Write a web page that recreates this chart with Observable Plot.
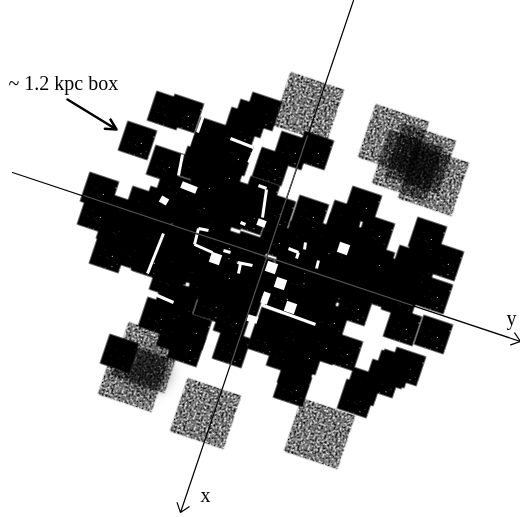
<!DOCTYPE html>
<html>
<head>
<meta charset="utf-8">
<script src="https://cdn.jsdelivr.net/npm/d3@7"></script>
<script src="https://cdn.jsdelivr.net/npm/@observablehq/plot@0.6"></script>
<style>html,body{margin:0;padding:0;background:#fff}svg{display:block}</style>
</head>
<body>
<div id="chart"></div>
<script>
// Deep (grey) fields: centre positions
const deepX = [308, 319, 205, 146, 133, 393, 420, 407, 433];
const deepY = [107, 433, 413, 357, 376, 139, 158, 165, 180];
// Overlap core of the deep fields
const coreX = [420, 147];
const coreY = [163, 370];
// Shallow (black) fields: centre positions
const fieldX = [137,166,184,165,172,142,99,96,108,138,144,168,157,186,192,175,119,
  231,292,296,271,266,295,322,343,285,305,356,363,382,391,406,394,402,433,433,400,444,427,409,420,395,405,
  314,291,271,262,250,241,234,244,276,309,344,362,375,340,350,
  210,197,215,205,225,200,180,155,123,135,115,230,250,
  170,195,225,250,275,300,325,350,175,200,225,250,275,300,325,350,375,
  306,283,321,354,212,232,205,180,240,255,235,212,300,330,365,380,
  185,160,190,150,260,320,335,365,290,215,245,170,380,225,205,310];
const fieldY = [140,110,113,164,190,205,191,214,253,254,235,279,316,347,330,335,353,
  348,387,372,326,338,335,345,351,355,355,398,386,378,369,366,368,326,334,294,299,261,236,264,262,275,285,
  150,150,166,111,118,126,156,199,211,214,219,205,233,232,240,
  136,165,165,185,195,205,210,215,214,230,228,210,215,
  240,250,245,250,240,240,240,255,265,270,275,280,280,270,270,280,262,
  304,296,298,306,304,320,285,300,300,270,300,275,315,320,280,290,
  235,205,225,260,195,290,285,255,265,225,300,305,285,175,150,255];
// Uncovered slivers between fields: x1, y1, x2, y2
const narrowGaps = [
  [203,115,197,132],[182,154,178,175],[163,233,147,273],[150,292,173,302],
  [198,228,208,230],[198,228,194,244],[194,244,212,252],[223,250,230,252],
  [240,263,238,273],[230,138,253,147],[258,185,266,188],[266,189,262,217],
  [240,222,245,224],[288,248,298,252],[298,252,296,258],[305,242,304,249],
  [318,260,316,268],[263,305,315,324],[237,262,252,265]
];
const wideGaps = [
  [181,184,196,190],[160,198,167,202],[258,145,250,163],[257,221,265,224],
  [267,292,263,303],[247,317,257,320]
];
// Small holes: centres
const holeX = [215, 343, 271, 280, 290];
const holeY = [258, 248, 267, 283, 307];
// Axes: start and end of each ray, then the stretch drawn grey across the fields
const axisStart = [[12,172],[353,0]];
const axisEnd = [[520,341],[180,512]];
const greyStart = [[83,195],[307,135]];
const greyEnd = [[412,305],[230,365]];
const noteStart = [67,99];
const noteEnd = [116,129];
// Labels
const labelText = ["~ 1.2 kpc box","x","y"];
const labelX = [8,200,506];
const labelY = [83,495,318];

const tilt = 18.5;
const plot = Plot.plot({
  width: 520, height: 517, margin: 0,
  x: {domain: [0,520], range: [0,520], axis: null},
  y: {domain: [0,517], range: [0,517], axis: null},
  style: {background: "#fff", filter: "blur(0.7px)"},
  marks: [
    Plot.dot(d3.range(deepX.length), {x: i => deepX[i], y: i => deepY[i], symbol: "square", r: 32, rotate: tilt, fill: "#000", className: "deep"}),
    Plot.dot(d3.range(coreX.length), {x: i => coreX[i], y: i => coreY[i], r: 22, fill: "#000", fillOpacity: 0.45, className: "core"}),
    Plot.dot(d3.range(fieldX.length), {x: i => fieldX[i], y: i => fieldY[i], symbol: "square", r: 17.6, rotate: tilt, fill: "#000", className: "field"}),
    Plot.link(narrowGaps, {x1: d => d[0], y1: d => d[1], x2: d => d[2], y2: d => d[3], stroke: "#fff", strokeWidth: 3}),
    Plot.link(wideGaps, {x1: d => d[0], y1: d => d[1], x2: d => d[2], y2: d => d[3], stroke: "#fff", strokeWidth: 7}),
    Plot.dot(d3.range(holeX.length), {x: i => holeX[i], y: i => holeY[i], symbol: "square", r: 6, rotate: tilt, fill: "#fff"}),
    Plot.arrow([0,1], {x1: i => axisStart[i][0], y1: i => axisStart[i][1], x2: i => axisEnd[i][0], y2: i => axisEnd[i][1], bend: 0, stroke: "#000", strokeWidth: 1.2, headLength: 13, headAngle: 75}),
    Plot.link([0,1], {x1: i => greyStart[i][0], y1: i => greyStart[i][1], x2: i => greyEnd[i][0], y2: i => greyEnd[i][1], stroke: "#555", strokeWidth: 1.2}),
    Plot.arrow([0], {x1: () => noteStart[0], y1: () => noteStart[1], x2: () => noteEnd[0], y2: () => noteEnd[1], bend: 0, stroke: "#000", strokeWidth: 2.5, headLength: 7, headAngle: 55}),
    Plot.text(labelText, {x: (d,i) => labelX[i], y: (d,i) => labelY[i], text: d => d, textAnchor: "start", fontFamily: "Liberation Serif", fontSize: 20, fill: "#000"})
  ]
});

const ns = "http://www.w3.org/2000/svg";
const defs = document.createElementNS(ns, "defs");
defs.innerHTML = `
<filter id="deepNoise" x="-5%" y="-5%" width="110%" height="110%" color-interpolation-filters="sRGB">
  <feTurbulence type="fractalNoise" baseFrequency="0.5" numOctaves="2" seed="4" result="n"/>
  <feColorMatrix in="n" type="matrix" values="0 0 0 0 0  0 0 0 0 0  0 0 0 0 0  2 0 0 0 -0.48" result="m"/>
  <feComposite in="SourceGraphic" in2="m" operator="in"/>
</filter>
<filter id="fieldNoise" x="-5%" y="-5%" width="110%" height="110%" color-interpolation-filters="sRGB">
  <feTurbulence type="fractalNoise" baseFrequency="0.7" numOctaves="1" seed="9" result="n"/>
  <feColorMatrix in="n" type="matrix" values="0 0 0 0 0  0 0 0 0 0  0 0 0 0 0  10 0 0 0 -1.8" result="m"/>
  <feComposite in="SourceGraphic" in2="m" operator="in"/>
</filter>
<filter id="soft" x="-40%" y="-40%" width="180%" height="180%">
  <feGaussianBlur stdDeviation="7"/>
</filter>`;
plot.insertBefore(defs, plot.firstChild);
plot.querySelectorAll(".deep path").forEach(p => p.setAttribute("filter", "url(#deepNoise)"));
plot.querySelectorAll(".field path").forEach(p => p.setAttribute("filter", "url(#fieldNoise)"));
plot.querySelectorAll(".core circle, .core path").forEach(p => p.setAttribute("filter", "url(#soft)"));
document.getElementById("chart").appendChild(plot);
</script>
</body>
</html>
